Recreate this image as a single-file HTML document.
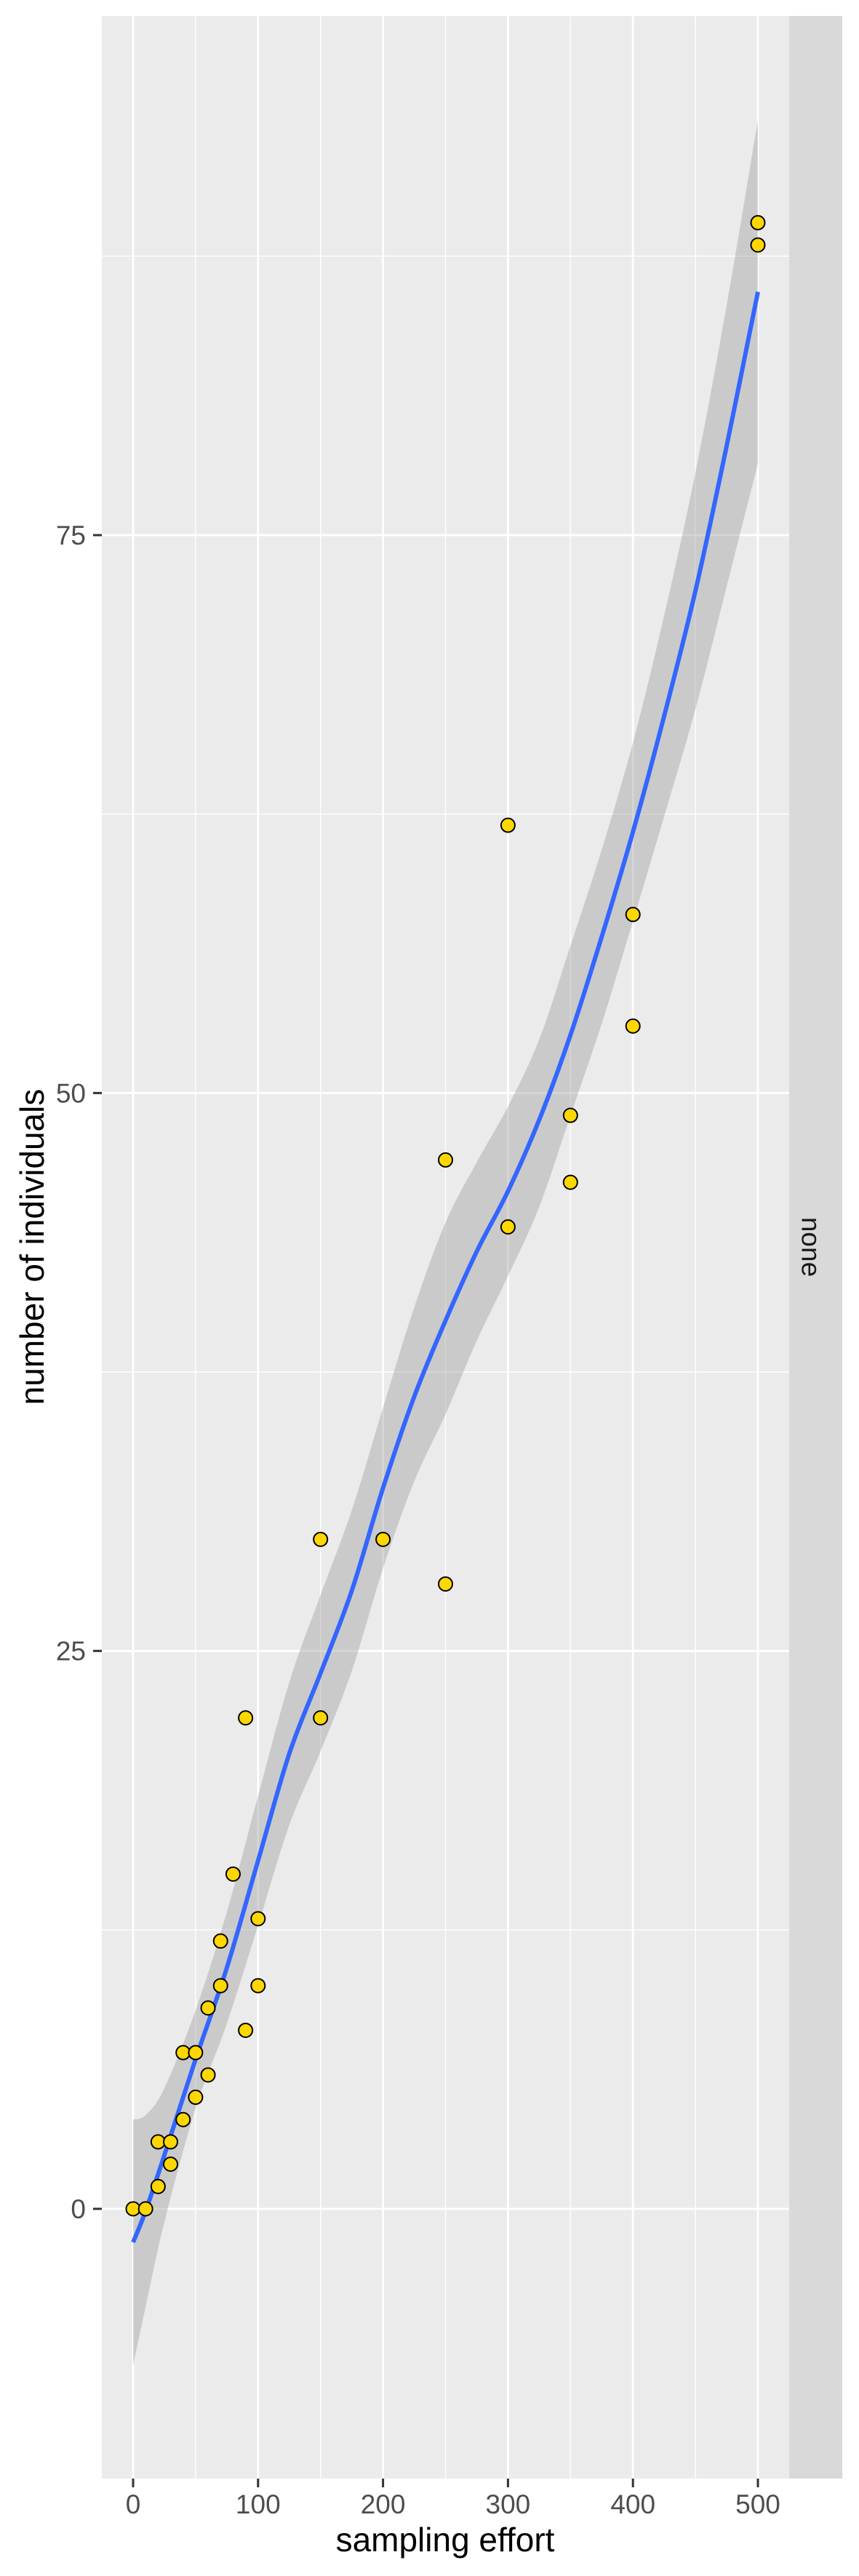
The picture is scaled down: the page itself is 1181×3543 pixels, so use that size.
<!DOCTYPE html>
<html><head><meta charset="utf-8">
<style>
html,body{margin:0;padding:0;background:#fff;}
svg{display:block;}
text{font-family:"Liberation Sans",Arial,sans-serif;}
</style></head>
<body>
<svg id="chart" width="1181" height="3543" viewBox="0 0 1181 3543" xmlns="http://www.w3.org/2000/svg">
<rect x="0" y="0" width="1181" height="3543" fill="#ffffff"/>
<rect x="140" y="22" width="945" height="3387" fill="#EBEBEB"/>
<g id="grid"></g>
<g id="band"></g>
<g id="line"></g>
<g id="points"></g>
<g id="axes"></g>
<rect x="1085" y="22" width="73" height="3387" fill="#D9D9D9"/>
<text x="1115" y="1715" transform="rotate(90 1115 1715)" text-anchor="middle" dominant-baseline="central" font-size="37" fill="#1A1A1A">none</text>
<text x="612" y="3509" text-anchor="middle" font-size="46" fill="#000">sampling effort</text>
<text x="60" y="1715" transform="rotate(-90 60 1715)" text-anchor="middle" font-size="46" fill="#000">number of individuals</text>
</svg>
<script>
const pointX = [0,10,20,20,30,30,40,40,50,50,60,60,70,70,80,90,90,100,100,150,150,200,250,250,300,300,350,350,400,400,500,500];
const pointY = [0,0,1,3,2,3,4,7,5,7,6,9,10,12,15,8,22,10,13,22,30,30,28,47,44,62,46,49,53,58,88,89];
const smoothX = [0,10,25,50,75,100,125,150,175,200,225,250,275,300,325,350,375,400,425,450,475,500];
const smoothY = [-1.5,-0.1,2.4,6.7,10.8,15.6,20.4,24.0,27.7,32.3,36.4,39.8,42.9,45.6,48.8,52.6,57.0,61.7,66.9,72.5,79.0,85.9];
const ciLow = [-7.0,-4.4,-0.6,4.5,8.3,12.7,17.2,20.5,24.1,28.7,32.6,35.6,38.9,41.8,44.9,49.0,53.1,57.7,62.4,67.2,72.7,78.2];
const ciHigh = [4.0,4.2,5.4,8.9,13.3,18.5,23.6,27.5,31.3,35.9,40.4,44.2,46.9,49.4,52.4,56.6,60.9,65.7,71.4,77.8,85.3,93.6];
const xTicks = [0,100,200,300,400,500];
const xMinor = [50,150,250,350,450];
const yTicks = [0,25,50,75];
const yMinor = [12.5,37.5,62.5,87.5];

const NS = "http://www.w3.org/2000/svg";
const PL = 140, PR = 1085, PT = 22, PB = 3409;
function sx(v){ return 183 + v * (1042 - 183) / 500; }
function sy(v){ return 3038 - v * (3038 - 736) / 75; }
function mk(tag, attrs, parent){
  const e = document.createElementNS(NS, tag);
  for (const k in attrs) e.setAttribute(k, attrs[k]);
  parent.appendChild(e); return e;
}
function smoothPath(xs, ys){
  const p = xs.map((x,i)=>[sx(x), sy(ys[i])]);
  let d = "M" + p[0][0] + "," + p[0][1];
  for (let i=0;i<p.length-1;i++){
    const p0=p[Math.max(0,i-1)], p1=p[i], p2=p[i+1], p3=p[Math.min(p.length-1,i+2)];
    const c1x=p1[0]+(p2[0]-p0[0])/6, c1y=p1[1]+(p2[1]-p0[1])/6;
    const c2x=p2[0]-(p3[0]-p1[0])/6, c2y=p2[1]-(p3[1]-p1[1])/6;
    d += " C"+c1x+","+c1y+" "+c2x+","+c2y+" "+p2[0]+","+p2[1];
  }
  return d;
}
const grid = document.getElementById('grid');
yMinor.forEach(v=>{ const l=mk('line',{x1:PL,x2:PR,y1:sy(v),y2:sy(v),stroke:'#fff','stroke-width':1.4},grid);
    });
xMinor.forEach(v=>{ const l=mk('line',{x1:sx(v),x2:sx(v),y1:PT,y2:PB,stroke:'#fff','stroke-width':1.4},grid);
    });
yTicks.forEach(v=>{ const l=mk('line',{x1:PL,x2:PR,y1:sy(v),y2:sy(v),stroke:'#fff','stroke-width':2.8},grid);
    });
xTicks.forEach(v=>{ const l=mk('line',{x1:sx(v),x2:sx(v),y1:PT,y2:PB,stroke:'#fff','stroke-width':2.8},grid);
    });

const up = smoothPath(smoothX, ciHigh);
const revX = smoothX.slice().reverse(), revL = ciLow.slice().reverse();
const lo = smoothPath(revX, revL).replace(/^M/, " L");
const band = mk('path',{d: up + lo + " Z", fill:'#999999','fill-opacity':0.4}, document.getElementById('band'));



const ln = mk('path',{d: smoothPath(smoothX, smoothY), fill:'none', stroke:'#3366FF','stroke-width':6,'stroke-linecap':'butt'}, document.getElementById('line'));



const pg = document.getElementById('points');
pointX.forEach((x,i)=>{
  const c = mk('circle',{cx:sx(x), cy:sy(pointY[i]), r:9.5, fill:'#FFD700', stroke:'#000','stroke-width':2}, pg);
  
  
});

const ax = document.getElementById('axes');
xTicks.forEach(v=>{
  const t = mk('line',{x1:sx(v),x2:sx(v),y1:PB,y2:PB+12,stroke:'#333','stroke-width':3},ax);
  
  
  const tx = mk('text',{x:sx(v), y:3457, 'text-anchor':'middle','font-size':37, fill:'#4D4D4D'},ax);
  tx.textContent = String(v);
  
  
});
yTicks.forEach(v=>{
  const t = mk('line',{x1:PL-12,x2:PL,y1:sy(v),y2:sy(v),stroke:'#333','stroke-width':3},ax);
  
  
  const tx = mk('text',{x:118, y:sy(v)+13, 'text-anchor':'end','font-size':37, fill:'#4D4D4D'},ax);
  tx.textContent = String(v);
  
  
});
</script>
</body></html>
